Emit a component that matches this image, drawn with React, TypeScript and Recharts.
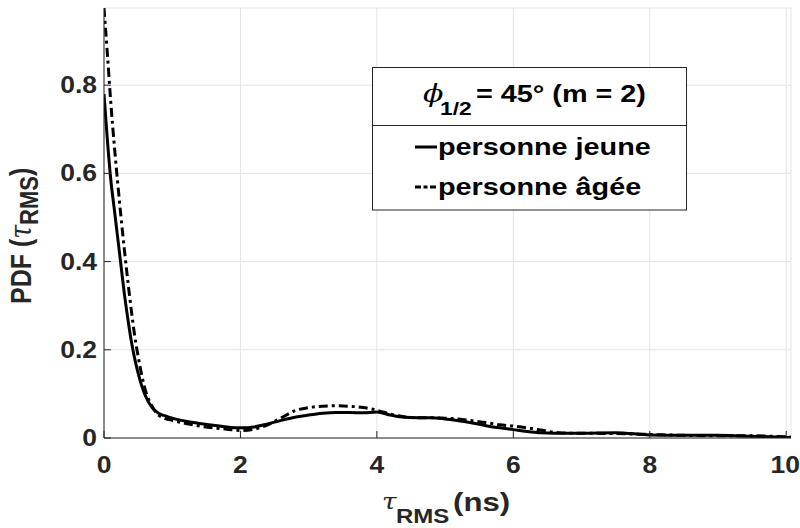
import React from 'react';
import { LineChart, Line, XAxis, YAxis, CartesianGrid } from 'recharts';

// tau_RMS (ns) sample points
const tau = [
  0, 0.05, 0.1, 0.15, 0.2, 0.25, 0.3, 0.35, 0.4, 0.45, 0.5, 0.55, 0.6, 0.7, 0.8, 0.9, 1.0,
  1.2, 1.4, 1.6, 1.8, 2.0, 2.2, 2.4, 2.6, 2.8, 3.0, 3.2, 3.4, 3.6, 3.8, 4.0,
  4.2, 4.4, 4.6, 4.8, 5.0, 5.2, 5.4, 5.6, 5.8, 6.0, 6.2, 6.4, 6.6, 6.8, 7.0,
  7.5, 8.0, 8.5, 9.0, 9.5, 10.07,
];

// PDF, personne jeune (solid)
const jeune = [
  0.78, 0.675, 0.585, 0.52, 0.455, 0.39, 0.325, 0.27, 0.22, 0.18, 0.147, 0.12, 0.098, 0.07, 0.056, 0.05, 0.045,
  0.038, 0.033, 0.029, 0.025, 0.023, 0.025, 0.032, 0.04, 0.047, 0.052, 0.056, 0.058, 0.058, 0.057, 0.059,
  0.052, 0.047, 0.046, 0.046, 0.043, 0.039, 0.034, 0.028, 0.023, 0.019, 0.015, 0.012, 0.011, 0.011, 0.011,
  0.012, 0.007, 0.006, 0.006, 0.004, 0.001,
];

// PDF, personne âgée (dash-dot)
const agee = [
  0.975, 0.87, 0.76, 0.665, 0.58, 0.5, 0.425, 0.355, 0.29, 0.232, 0.185, 0.145, 0.112, 0.073, 0.052, 0.044, 0.04,
  0.033, 0.027, 0.023, 0.02, 0.017, 0.02, 0.03, 0.046, 0.062, 0.069, 0.072, 0.073, 0.072, 0.069, 0.063,
  0.054, 0.048, 0.046, 0.046, 0.045, 0.043, 0.039, 0.035, 0.03, 0.027, 0.023, 0.018, 0.013, 0.011, 0.011,
  0.01, 0.008, 0.006, 0.005, 0.005, 0.002,
];

const xTicks = [0, 2, 4, 6, 8, 10];
const yTicks = [0, 0.2, 0.4, 0.6, 0.8];

const data = tau.map((t, i) => ({ t, jeune: jeune[i], agee: agee[i] }));

const INK = '#262626';
const SANS = '"Liberation Sans", Arial, sans-serif';
const SERIF = '"DejaVu Serif", serif';
const SX = 1.2; // the figure text is stretched a little horizontally
const DASH = '9 4 3 4';

const fmtY = (v: number) => (v === 0 ? '0' : v.toFixed(1));

const BottomTick = ({ x, y, payload }: any) => (
  <g>
    <line x1={x} x2={x} y1={y} y2={y - 7} stroke={INK} />
    <text
      transform={`translate(${payload.value === 10 ? x - 1 : x},${y + 35}) scale(1.15,1)`}
      textAnchor="middle"
      fontFamily={SANS}
      fontWeight="bold"
      fontSize={23}
      fill={INK}
    >
      {payload.value}
    </text>
  </g>
);

const LeftTick = ({ x, y, payload }: any) => (
  <g>
    <line x1={x} x2={x + 7} y1={y} y2={y} stroke={INK} />
    <text
      transform={`translate(${x - 7},${y + 8}) scale(1.15,1)`}
      textAnchor="end"
      fontFamily={SANS}
      fontWeight="bold"
      fontSize={23}
      fill={INK}
    >
      {fmtY(payload.value)}
    </text>
  </g>
);

const TopTick = ({ x, y }: any) => <line x1={x} x2={x} y1={y} y2={y + 7} stroke={INK} />;
const RightTick = ({ x, y }: any) => <line x1={x} x2={x - 7} y1={y} y2={y} stroke={INK} />;

const Overlay = () => (
  <svg
    width={800}
    height={528}
    style={{ position: 'absolute', left: 0, top: 0, pointerEvents: 'none' }}
  >
    {/* legend box */}
    <rect x={372.5} y={67.5} width={314} height={142.5} fill="#fff" stroke={INK} />
    <line x1={372.5} x2={686.5} y1={125.5} y2={125.5} stroke={INK} />
    <text transform={`translate(423,102) scale(${SX},1)`} fontFamily={SERIF} fontStyle="italic" fontSize={25} fill="#000">
      ϕ
    </text>
    <text transform={`translate(440,115) scale(${SX},1)`} fontFamily={SANS} fontWeight="bold" fontSize={19} fill="#000">
      1/2
    </text>
    <text transform={`translate(476,102) scale(${SX},1)`} fontFamily={SANS} fontWeight="bold" fontSize={24} fill="#000">
      = 45° (m = 2)
    </text>
    <line x1={415} x2={437} y1={147} y2={147} stroke="#000" strokeWidth={3} />
    <text transform={`translate(438,155) scale(${SX},1)`} fontFamily={SANS} fontWeight="bold" fontSize={24} fill="#000">
      personne jeune
    </text>
    <line x1={415} x2={437} y1={187} y2={187} stroke="#000" strokeWidth={3} strokeDasharray="6 2.5 4 2.5" />
    <text transform={`translate(438,195) scale(${SX},1)`} fontFamily={SANS} fontWeight="bold" fontSize={24} fill="#000">
      personne âgée
    </text>

    {/* x label */}
    <text transform={`translate(382,509) scale(${SX},1)`} fontFamily={SERIF} fontStyle="italic" fontSize={22} fill={INK}>
      τ
    </text>
    <text transform={`translate(396,523) scale(${SX},1)`} fontFamily={SANS} fontWeight="bold" fontSize={20} fill={INK}>
      RMS
    </text>
    <text transform={`translate(453,511) scale(${SX},1)`} fontFamily={SANS} fontWeight="bold" fontSize={26} fill={INK}>
      (ns)
    </text>

    {/* y label */}
    <text
      transform={`translate(31,304) scale(${SX},1) rotate(-90)`}
      textAnchor="start"
      fontFamily={SANS}
      fontWeight="bold"
      fontSize={25}
      fill={INK}
    >
      PDF (
      <tspan fontFamily={SERIF} fontStyle="italic" fontWeight="normal">τ</tspan>
      <tspan fontSize={22} dy={6}>RMS</tspan>
      <tspan dy={-6}>)</tspan>
    </text>
  </svg>
);

export default function App() {
  return (
    <div style={{ position: 'absolute', left: 0, top: 0, width: 800, height: 528, background: '#fff' }}>
      <LineChart width={800} height={528} data={data} margin={{ top: 8, right: 9, bottom: 0, left: 0 }}>
        <CartesianGrid stroke="#e3e3e3" />
        <XAxis
          dataKey="t"
          type="number"
          domain={[0, 10.07]}
          ticks={xTicks}
          allowDataOverflow
          height={90}
          tickSize={0}
          tickMargin={0}
          tickLine={false}
          axisLine={{ stroke: INK }}
          tick={<BottomTick />}
        />
        <XAxis
          xAxisId="top"
          orientation="top"
          dataKey="t"
          type="number"
          domain={[0, 10.07]}
          ticks={xTicks}
          allowDataOverflow
          height={0}
          tickSize={0}
          tickMargin={0}
          tickLine={false}
          axisLine={{ stroke: INK }}
          tick={<TopTick />}
        />
        <YAxis
          type="number"
          domain={[0, 0.975]}
          ticks={yTicks}
          allowDataOverflow
          width={104}
          tickSize={0}
          tickMargin={0}
          tickLine={false}
          axisLine={{ stroke: INK }}
          tick={<LeftTick />}
        />
        <YAxis
          yAxisId="right"
          orientation="right"
          type="number"
          domain={[0, 0.975]}
          ticks={yTicks}
          allowDataOverflow
          width={0}
          tickSize={0}
          tickMargin={0}
          tickLine={false}
          axisLine={{ stroke: INK }}
          tick={<RightTick />}
        />
        <Line
          type="monotone"
          dataKey="jeune"
          stroke="#000"
          strokeWidth={3}
          dot={false}
          isAnimationActive={false}
        />
        <Line
          type="monotone"
          dataKey="agee"
          stroke="#000"
          strokeWidth={3}
          strokeDasharray={DASH}
          dot={false}
          isAnimationActive={false}
        />
      </LineChart>
      <Overlay />
    </div>
  );
}
